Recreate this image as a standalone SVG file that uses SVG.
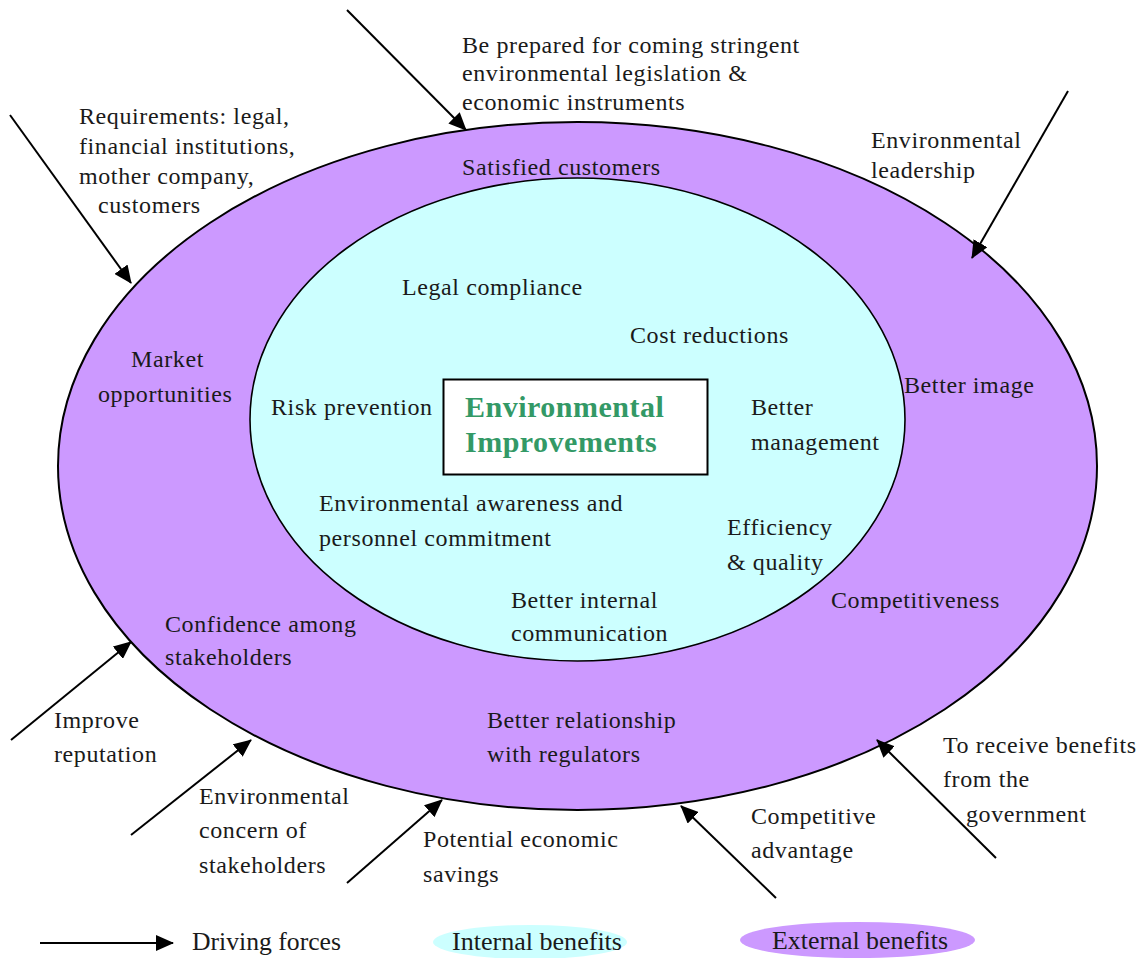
<svg xmlns="http://www.w3.org/2000/svg" width="1145" height="958" viewBox="0 0 1145 958">
  <style>
    text { font-family: "Liberation Serif", "Times New Roman", serif; font-size: 24px; letter-spacing: 0.6px; fill: #1a1a1a; }
    .title { font-size: 30px; letter-spacing: 0.5px; font-weight: bold; fill: #339966; }
    .legend { letter-spacing: 0; font-size: 26px; }
    .outer { fill: #CC99FF; stroke: #000; stroke-width: 2; }
    .inner { fill: #CCFFFF; stroke: #000; stroke-width: 1.6; }
    .force { stroke: #000; stroke-width: 2; fill: none; marker-end: url(#head); }
  </style>
  <defs>
    <marker id="head" markerUnits="userSpaceOnUse" markerWidth="18" markerHeight="16" refX="17" refY="8" orient="auto">
      <path d="M0,0 L18,8 L0,16 z" fill="#000"/>
    </marker>
  </defs>

  <rect width="1145" height="958" fill="#fff"/>

  <!-- external benefits ring -->
  <g id="external-benefits">
    <ellipse class="outer" cx="577.5" cy="466" rx="519.5" ry="344"/>
    <text x="462" y="175">Satisfied customers</text>
    <text x="131" y="367">Market</text>
    <text x="98" y="402">opportunities</text>
    <text x="904" y="393">Better image</text>
    <text x="831" y="608">Competitiveness</text>
    <text x="165" y="632">Confidence among</text>
    <text x="165" y="665">stakeholders</text>
    <text x="487" y="728">Better relationship</text>
    <text x="487" y="762">with regulators</text>
  </g>

  <!-- internal benefits ring -->
  <g id="internal-benefits">
    <ellipse class="inner" cx="577.5" cy="419.5" rx="327.5" ry="241.5"/>
    <text x="402" y="295">Legal compliance</text>
    <text x="630" y="343">Cost reductions</text>
    <text x="271" y="415">Risk prevention</text>
    <text x="751" y="415">Better</text>
    <text x="751" y="450">management</text>
    <text x="319" y="511">Environmental awareness and</text>
    <text x="319" y="546">personnel commitment</text>
    <text x="727" y="535">Efficiency</text>
    <text x="727" y="570">&amp; quality</text>
    <text x="511" y="608">Better internal</text>
    <text x="511" y="641">communication</text>
  </g>

  <!-- core box -->
  <g id="environmental-improvements">
    <rect x="443.5" y="379.5" width="264" height="95" fill="#fff" stroke="#000" stroke-width="2"/>
    <text class="title" x="465" y="417">Environmental</text>
    <text class="title" x="465" y="452">Improvements</text>
  </g>

  <!-- driving forces -->
  <g id="connectors">
    <line class="force" x1="10" y1="115" x2="131" y2="283"/>
    <line class="force" x1="347" y1="10" x2="466" y2="130"/>
    <line class="force" x1="1068" y1="91" x2="972" y2="258"/>
    <line class="force" x1="11" y1="740" x2="131" y2="642"/>
    <line class="force" x1="131" y1="835" x2="251" y2="740"/>
    <line class="force" x1="347" y1="883" x2="442" y2="800"/>
    <line class="force" x1="776" y1="898" x2="681" y2="806"/>
    <line class="force" x1="996" y1="858" x2="877" y2="740"/>
  </g>

  <g id="force-labels">
    <g id="force-requirements">
      <text x="79" y="124">Requirements: legal,</text>
      <text x="79" y="154">financial institutions,</text>
      <text x="79" y="184">mother company,</text>
      <text x="98" y="213">customers</text>
    </g>
    <g id="force-legislation">
      <text x="462" y="53">Be prepared for coming stringent</text>
      <text x="462" y="81">environmental legislation &amp;</text>
      <text x="462" y="110">economic instruments</text>
    </g>
    <g id="force-leadership">
      <text x="871" y="148">Environmental</text>
      <text x="871" y="178">leadership</text>
    </g>
    <g id="force-reputation">
      <text x="54" y="728">Improve</text>
      <text x="54" y="762">reputation</text>
    </g>
    <g id="force-concern">
      <text x="199" y="804">Environmental</text>
      <text x="199" y="838">concern of</text>
      <text x="199" y="873">stakeholders</text>
    </g>
    <g id="force-savings">
      <text x="423" y="847">Potential economic</text>
      <text x="423" y="882">savings</text>
    </g>
    <g id="force-advantage">
      <text x="751" y="824">Competitive</text>
      <text x="751" y="858">advantage</text>
    </g>
    <g id="force-government">
      <text x="943" y="753">To receive benefits</text>
      <text x="943" y="787">from the</text>
      <text x="966" y="822">government</text>
    </g>
  </g>

  <!-- legend -->
  <g id="legend">
    <line class="force" x1="40" y1="943" x2="173" y2="943"/>
    <text class="legend" x="192" y="950" textLength="149" lengthAdjust="spacingAndGlyphs">Driving forces</text>
    <ellipse cx="530" cy="942" rx="97" ry="17" fill="#CCFFFF"/>
    <text class="legend" x="452" y="950" textLength="170" lengthAdjust="spacingAndGlyphs">Internal benefits</text>
    <ellipse cx="857.5" cy="940" rx="117.5" ry="18" fill="#CC99FF"/>
    <text class="legend" x="772" y="949" textLength="176" lengthAdjust="spacingAndGlyphs">External benefits</text>
  </g>
</svg>
